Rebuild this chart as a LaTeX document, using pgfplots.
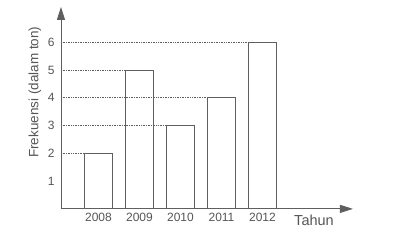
\documentclass[border=0pt]{standalone}
\usepackage{pgfplots}
\pgfplotsset{compat=1.18}
\usepackage{fontspec}
\setmainfont{Liberation Sans}
\usetikzlibrary{arrows.meta}
\definecolor{ink}{RGB}{85,85,85}
\definecolor{linec}{RGB}{95,95,95}
\begin{document}
\begin{tikzpicture}
\begin{axis}[
  scale only axis,
  width=292pt, height=202pt,
  xmin=-0.915, xmax=6.207,
  ymin=0, ymax=7.27,
  axis x line=bottom, axis y line=left,
  axis line style={draw=linec, line width=0.9pt, -{Triangle[length=13pt,width=8pt,fill=linec]}},
  xtick={0,1,2,3,4},
  xticklabels={2008,2009,2010,2011,2012},
  ytick={1,2,3,4,5,6},
  major tick length=0pt,
  tick style={draw=none},
  /pgf/number format/assume math mode=true,
  ticklabel style={text=ink, font=\fontsize{12}{14}\selectfont},
  yticklabel style={xshift=-3pt},
  xticklabel style={yshift=-1pt},
  clip=false,
]
\addplot[ybar, bar width=27.5pt, draw=linec, fill=none, line width=0.8pt]
  coordinates {(0,2) (1,5) (2,3) (3,4) (4,6)};
\addplot[densely dotted, linec, line width=0.7pt] coordinates {(-0.915,2) (-0.335,2)};
\addplot[densely dotted, linec, line width=0.7pt] coordinates {(-0.915,5) (0.665,5)};
\addplot[densely dotted, linec, line width=0.7pt] coordinates {(-0.915,3) (1.665,3)};
\addplot[densely dotted, linec, line width=0.7pt] coordinates {(-0.915,4) (2.665,4)};
\addplot[densely dotted, linec, line width=0.7pt] coordinates {(-0.915,6) (3.665,6)};
\node[text=ink, font=\fontsize{14.5}{16}\selectfont] at (axis cs:5.256,-0.40) {Tahun};
\node[text=ink, rotate=90, font=\fontsize{13.5}{15}\selectfont] at (axis cs:-1.55,4.2) {Frekuensi (dalam ton)};
\path (axis cs:-2.402,-1.475) rectangle (axis cs:7.305,7.518);
\end{axis}
\end{tikzpicture}
\end{document}
